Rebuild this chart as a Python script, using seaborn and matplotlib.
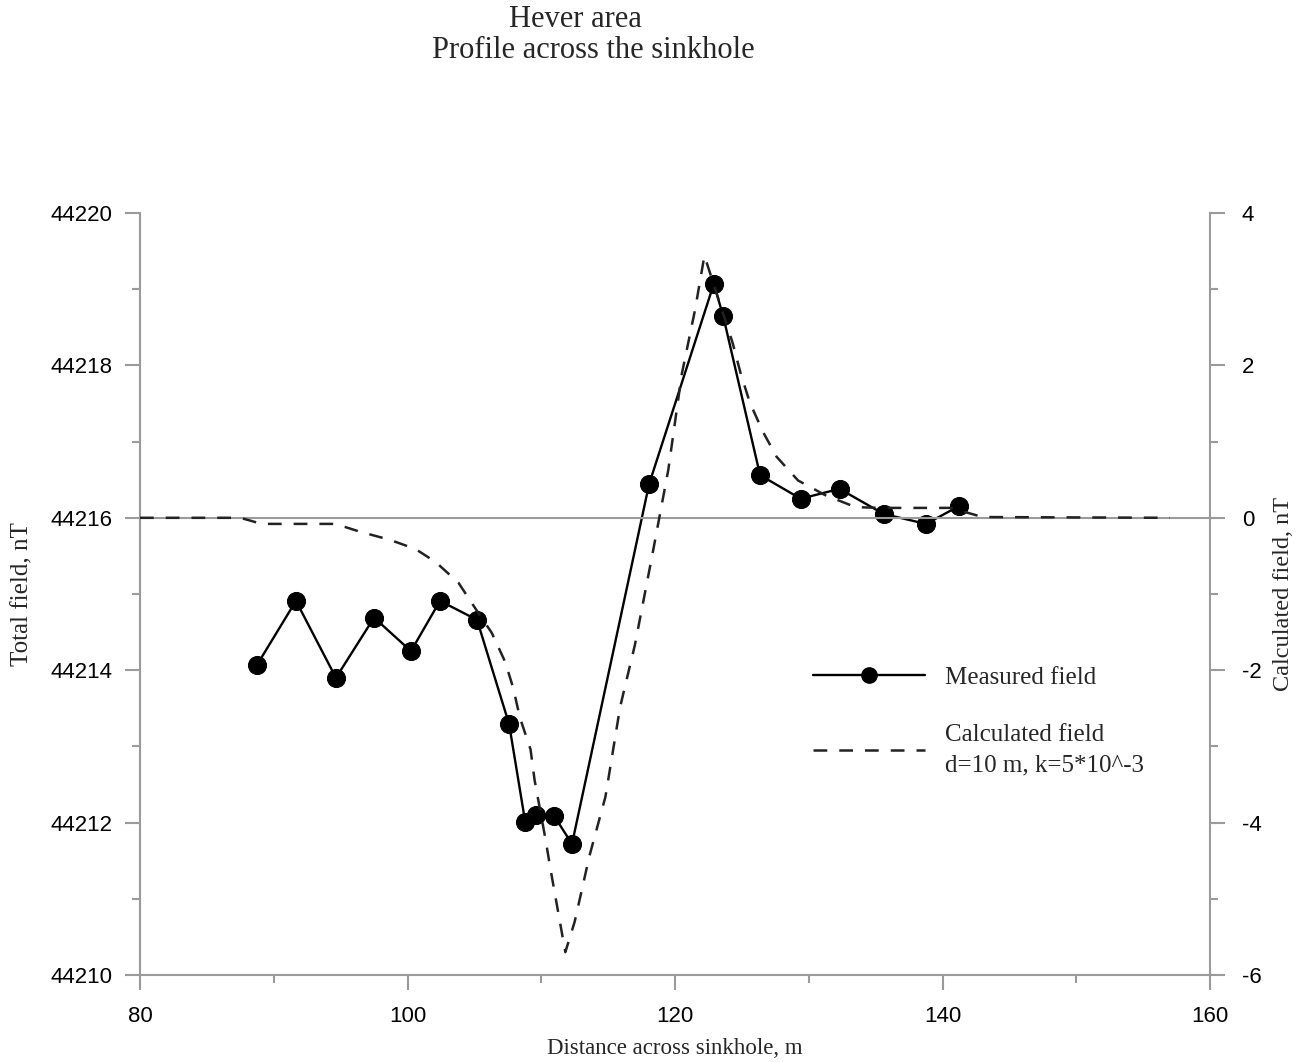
import matplotlib
matplotlib.use("Agg")
import matplotlib.pyplot as plt
import seaborn as sns
import pandas as pd
from matplotlib.ticker import MultipleLocator
from matplotlib.lines import Line2D

# ---- data ----
meas_x = [88.75, 91.66, 94.65, 97.5, 100.26, 102.43, 105.2, 107.6, 108.8, 109.6,
          110.95, 112.3, 118.06, 122.9, 123.6, 126.36, 129.4, 132.3, 135.6, 138.77, 141.2]
meas_y = [44214.07, 44214.91, 44213.90, 44214.69, 44214.25, 44214.91, 44214.66,
          44213.29, 44212.01, 44212.10, 44212.09, 44211.72, 44216.44, 44219.07,
          44218.65, 44216.56, 44216.25, 44216.38, 44216.05, 44215.92, 44216.15]

calc_x = [80.0, 87.5, 89.1, 94.6, 96.4, 98.7, 100.6, 102.1, 103.8, 105.0, 106.3,
          107.3, 107.9, 108.4, 109.2, 109.5, 110.3, 110.7, 111.8, 112.5, 113.6,
          114.8, 115.9, 117.0, 118.3, 119.5, 120.5, 121.5, 122.2, 124.3, 124.9,
          125.6, 126.6, 127.6, 129.2, 131.2, 133.5, 135.3, 140.6, 143.0, 157.0]
calc_y = [0.0, 0.0, -0.08, -0.08, -0.18, -0.29, -0.41, -0.58, -0.85, -1.17, -1.51,
          -1.89, -2.23, -2.62, -3.04, -3.44, -4.20, -4.62, -5.70, -5.30, -4.44,
          -3.66, -2.48, -1.67, -0.49, 0.63, 1.88, 2.73, 3.44, 2.30, 1.90,
          1.51, 1.12, 0.80, 0.49, 0.30, 0.14, 0.13, 0.13, 0.01, 0.0]

title_line1 = "Hever area"
title_line2 = "Profile across the sinkhole"
xlabel = "Distance across sinkhole, m"
ylabel_left = "Total field, nT"
ylabel_right = "Calculated field, nT"
legend_labels = ["Measured field", "Calculated field\nd=10 m, k=5*10^-3"]

meas_df = pd.DataFrame({"x": meas_x, "y": meas_y})
calc_df = pd.DataFrame({"x": calc_x, "y": calc_y})

sns.set_style("ticks")
plt.rcParams["font.family"] = ["Liberation Sans", "DejaVu Sans"]
plt.rcParams["axes.unicode_minus"] = False

fig = plt.figure(figsize=(12.98, 10.62), dpi=100)
ax = fig.add_axes([140/1298, 1-975/1062, (1210-140)/1298, (975-213)/1062])
ax2 = ax.twinx()

spine_col = "#9a9a9a"
serif = ["Liberation Serif", "DejaVu Serif"]
dash = (0, (5.5, 4.8))

# zero line
ax2.axhline(0, color=spine_col, lw=1.5, zorder=1)

sns.lineplot(data=meas_df, x="x", y="y", ax=ax, color="black", lw=1.7,
             marker="o", markersize=13, markeredgecolor="black", sort=False,
             estimator=None, zorder=3)
sns.lineplot(data=calc_df, x="x", y="y", ax=ax2, color="#222222", lw=1.8,
             linestyle=dash, sort=False, estimator=None, zorder=2)

ax.set_xlim(80, 160)
ax.set_ylim(44210, 44220)
ax2.set_ylim(-6, 4)

ax.xaxis.set_major_locator(MultipleLocator(20))
ax.xaxis.set_minor_locator(MultipleLocator(10))
ax.yaxis.set_major_locator(MultipleLocator(2))
ax.yaxis.set_minor_locator(MultipleLocator(1))
ax2.yaxis.set_major_locator(MultipleLocator(2))
ax2.yaxis.set_minor_locator(MultipleLocator(1))
ax.ticklabel_format(axis="y", useOffset=False, style="plain")

for a in (ax, ax2):
    for s in a.spines.values():
        s.set_color(spine_col)
        s.set_linewidth(1.5)
    a.spines["top"].set_visible(False)
    a.tick_params(which="major", length=11, width=1.5, color=spine_col,
                  labelsize=16, labelcolor="black", direction="out")
    a.tick_params(which="minor", length=6, width=1.5, color=spine_col, direction="out")

ax.spines["right"].set_visible(False)
ax2.spines["left"].set_visible(False)
ax2.spines["bottom"].set_visible(False)
ax.tick_params(axis="y", pad=9)
ax.tick_params(axis="x", pad=11)
ax2.tick_params(axis="y", pad=12)

ax.set_xlabel(xlabel, fontsize=16.5, family=serif, labelpad=8)
ax.set_ylabel(ylabel_left, fontsize=18, family=serif, labelpad=12)
ax2.set_ylabel(ylabel_right, fontsize=17.5, family=serif, labelpad=8)

fig.text(575/1298, 1-5/1062, title_line1, ha="center", va="top",
         fontsize=22, family=serif)
fig.text(593/1298, 1-36/1062, title_line2, ha="center", va="top",
         fontsize=22, family=serif)

handles = [Line2D([], [], color="black", lw=1.7, marker="o", markersize=11),
           Line2D([], [], color="#222222", lw=1.8, linestyle=dash)]
leg = ax.legend(handles, legend_labels, loc="upper left",
                bbox_to_anchor=(790/1298, 1-644/1062), bbox_transform=fig.transFigure,
                frameon=False, handlelength=4.5, handletextpad=0.8, labelspacing=1.4,
                prop={"family": serif, "size": 18})
for t in leg.get_texts():
    t.set_linespacing(1.5)

fig.savefig("out.png", dpi=100, facecolor="white")
